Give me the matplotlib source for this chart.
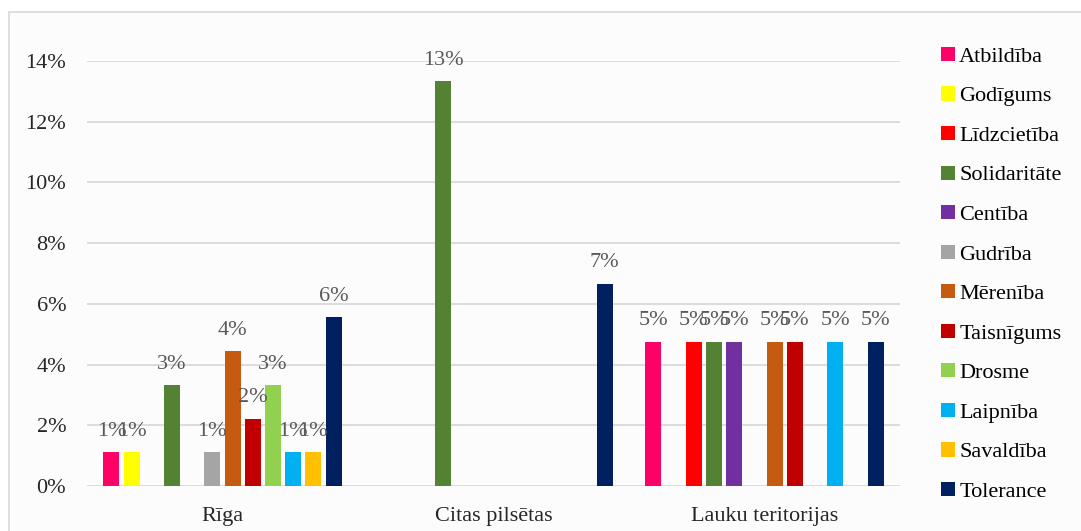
import numpy as np
import matplotlib as mpl
mpl.use("Agg")
import matplotlib.pyplot as plt
from matplotlib.patches import Rectangle

plt.rcParams["font.family"] = ["Liberation Serif", "DejaVu Serif"]

GROUPS = ["Rīga", "Citas pilsētas", "Lauku teritorijas"]
SERIES = ["Atbildība", "Godīgums", "Līdzcietība", "Solidaritāte", "Centība", "Gudrība",
          "Mērenība", "Taisnīgums", "Drosme", "Laipnība", "Savaldība", "Tolerance"]
COLORS = ["#ff0066", "#ffff00", "#ff0000", "#548235", "#7030a0", "#a5a5a5",
          "#c55a11", "#c00000", "#92d050", "#00b0f0", "#ffc000", "#002060"]
# values per series: [Rīga, Citas pilsētas, Lauku teritorijas] (fraction)
VALUES = [
    [0.0111, 0.0, 0.0476],   # Atbildība
    [0.0111, 0.0, 0.0],      # Godīgums
    [0.0, 0.0, 0.0476],      # Līdzcietība
    [0.0333, 0.1333, 0.0476],# Solidaritāte
    [0.0, 0.0, 0.0476],      # Centība
    [0.0111, 0.0, 0.0],      # Gudrība
    [0.0444, 0.0, 0.0476],   # Mērenība
    [0.0222, 0.0, 0.0476],   # Taisnīgums
    [0.0333, 0.0, 0.0],      # Drosme
    [0.0111, 0.0, 0.0476],   # Laipnība
    [0.0111, 0.0, 0.0],      # Savaldība
    [0.0556, 0.0667, 0.0476],# Tolerance
]

fig = plt.figure(figsize=(10.81, 5.31), dpi=100, facecolor="white")
fig.patches.append(Rectangle((9 / 1081, -0.01), 1.02, 1 - 12 / 531 + 0.01,
                             transform=fig.transFigure, fc="#fcfcfc", ec="#d9d9d9", lw=1.2, zorder=-1))
ax = fig.add_axes([87 / 1081, 45 / 531, 813 / 1081, 425 / 531])
ax.set_facecolor("none")

x = np.arange(len(GROUPS))
slot = 0.0745
bw = 0.059
n = len(SERIES)
for i, (name, col, vals) in enumerate(zip(SERIES, COLORS, VALUES)):
    xs = x + (i - (n - 1) / 2) * slot
    vals = np.array(vals)
    ax.bar(xs, vals, width=bw, color=col, label=name, zorder=3)
    for xx, v in zip(xs, vals):
        if v > 0:
            ax.text(xx, v + 0.0037, "%d%%" % round(v * 100), ha="center", va="bottom",
                    fontsize=16, color="#595959", clip_on=False, zorder=4)

ax.set_xlim(-0.5, 2.5)
ax.set_ylim(0, 0.14)
ax.set_yticks(np.arange(0, 0.141, 0.02))
ax.set_yticklabels(["%d%%" % round(t * 100) for t in np.arange(0, 0.141, 0.02)])
ax.set_xticks(x)
ax.set_xticklabels(GROUPS)
ax.tick_params(axis="both", length=0, labelsize=16, labelcolor="#262626")
ax.tick_params(axis="y", pad=15)
ax.tick_params(axis="x", pad=15)
ax.grid(axis="y", color="#d9d9d9", lw=1.3, zorder=0)
for s in ax.spines.values():
    s.set_visible(False)

leg = ax.legend(loc="upper left", bbox_to_anchor=(1.04, 1.054), frameon=False, fontsize=16,
                handlelength=0.6, handleheight=0.6, handletextpad=0.2, labelspacing=0.885,
                borderaxespad=0)

fig.savefig("out.png", dpi=100, facecolor="white")
